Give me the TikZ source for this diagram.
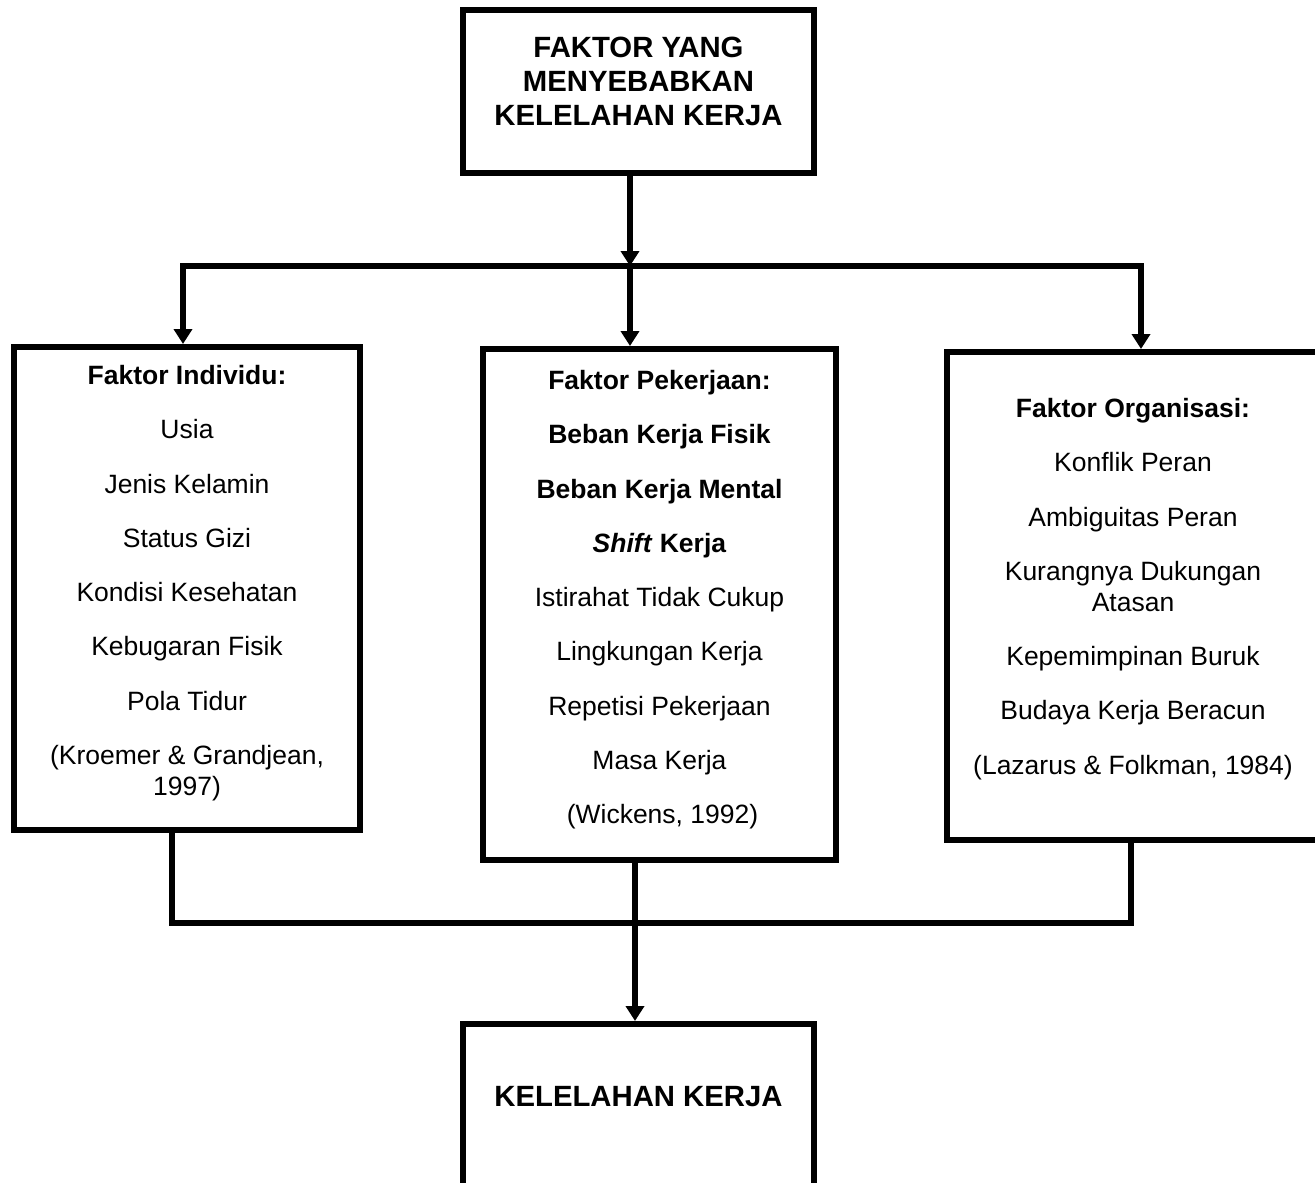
\documentclass[tikz,border=0pt]{standalone}
\usepackage{fontspec}
\setmainfont{Liberation Sans}
\usetikzlibrary{arrows.meta}
\begin{document}
\begin{tikzpicture}[x=1pt,y=-1pt,
  box/.style={draw=black,line width=6pt,rectangle,inner sep=0pt,fill=none},
  conn/.style={draw=black,line width=5.5pt},
  tip/.style={-{Triangle[width=18pt,length=15pt]}},
  body/.style={inner sep=0pt,align=center,font=\fontsize{26.5}{31}\selectfont},
  head/.style={inner sep=0pt,align=center,font=\fontsize{29.3}{34}\selectfont\bfseries}]
\useasboundingbox (0,0) rectangle (1315,1183);
\clip (0,0) rectangle (1315,1183);
\fill[white] (0,0) rectangle (1315,1183);
% boxes
\node[box,minimum width=351pt,minimum height=163pt] (top) at (638.5,91.5) {};
\node[box,minimum width=346pt,minimum height=483pt] (left) at (187,588.5) {};
\node[box,minimum width=353pt,minimum height=511pt] (mid) at (659.5,604.5) {};
\node[box,minimum width=383pt,minimum height=488pt] (right) at (1138.5,596) {};
\node[box,minimum width=351pt,minimum height=176pt] (bot) at (638.5,1112) {};
% texts
\node[head,anchor=north] (toptext) at (638.5,37) {FAKTOR YANG\\MENYEBABKAN\\KELELAHAN KERJA};
\node[head,anchor=center] (bottext) at (638.5,1097) {KELELAHAN KERJA};
\node[body,anchor=north] (lefttext) at (187,365) {\textbf{Faktor Individu:}\\[23.3pt]
  Usia\\[23.3pt]Jenis Kelamin\\[23.3pt]Status Gizi\\[23.3pt]Kondisi Kesehatan\\[23.3pt]
  Kebugaran Fisik\\[23.3pt]Pola Tidur\\[23.3pt](Kroemer \& Grandjean,\\1997)};
\node[body,anchor=north] (midtext) at (659.5,370) {\textbf{Faktor Pekerjaan:}\\[23.3pt]
  \textbf{Beban Kerja Fisik}\\[23.3pt]\textbf{Beban Kerja Mental}\\[23.3pt]
  \textbf{\textit{Shift} Kerja}\\[23.3pt]Istirahat Tidak Cukup\\[23.3pt]
  Lingkungan Kerja\\[23.3pt]Repetisi Pekerjaan\\[23.3pt]Masa Kerja\\[23.3pt]
  \hspace*{6pt}(Wickens, 1992)};
\node[body,anchor=north] (righttext) at (1133,398) {\textbf{Faktor Organisasi:}\\[23.3pt]
  Konflik Peran\\[23.3pt]Ambiguitas Peran\\[23.3pt]Kurangnya Dukungan\\Atasan\\[23.3pt]
  Kepemimpinan Buruk\\[23.3pt]Budaya Kerja Beracun\\[23.3pt](Lazarus \& Folkman, 1984)};
% junction points
\coordinate (jt) at (630,266);
\coordinate (bl) at (183,266);
\coordinate (br) at (1141,266);
\coordinate (ql) at (172,923);
\coordinate (qr) at (1131,923);
\coordinate (qm) at (635,923);
% connectors
\draw[conn,tip] (top.south -| jt) -- (jt);
\draw[conn,{Triangle[width=18pt,length=15pt]}-{Triangle[width=18pt,length=15pt]},line join=miter] (left.north -| bl) -- (bl) -- (br) -- (right.north -| br);
\draw[conn,tip] (jt) -- (mid.north -| jt);
\draw[conn,line join=miter] (left.south -| ql) -- (ql) -- (qr) -- (right.south -| qr);
\draw[conn,tip] (mid.south -| qm) -- (bot.north -| qm);
\end{tikzpicture}
\end{document}
